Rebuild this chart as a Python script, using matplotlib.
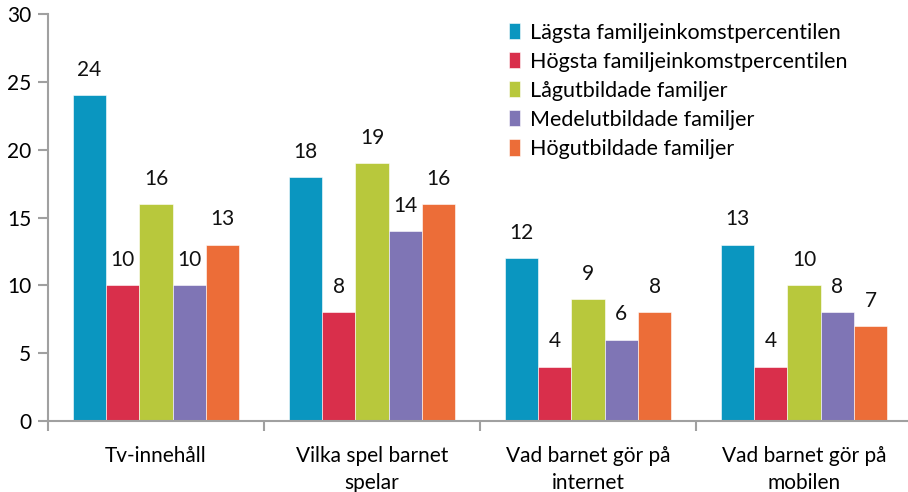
import matplotlib
matplotlib.use("Agg")
import matplotlib.pyplot as plt
import numpy as np

categories = ["Tv-innehåll", "Vilka spel barnet\nspelar", "Vad barnet gör på\ninternet", "Vad barnet gör på\nmobilen"]
series_names = ["Lägsta familjeinkomstpercentilen", "Högsta familjeinkomstpercentilen",
                "Lågutbildade familjer", "Medelutbildade familjer", "Högutbildade familjer"]
lagsta = [24, 18, 12, 13]
hogsta = [10, 8, 4, 4]
lagutb = [16, 19, 9, 10]
medelutb = [10, 14, 6, 8]
hogutb = [13, 16, 8, 7]
series = [lagsta, hogsta, lagutb, medelutb, hogutb]
colors = ["#0a96c0", "#d92f4b", "#b8c83c", "#7f75b5", "#ec6d38"]
yticks = [0, 5, 10, 15, 20, 25, 30]

plt.rcParams['font.family'] = ['Lato', 'DejaVu Sans']

fig = plt.figure(figsize=(9.08, 4.92), dpi=100)
ax = fig.add_axes([48/908, 1-421/492, 864/908, (421-14)/492])

x = np.arange(len(categories))
w = 0.154
for i, (vals, c, name) in enumerate(zip(series, colors, series_names)):
    pos = x + (i - 2) * w
    ax.bar(pos, vals, width=w, color=c, edgecolor="white", linewidth=0.4, label=name)
    for p, v in zip(pos, vals):
        ax.annotate(str(v), (p, v), xytext=(0, 11), textcoords="offset points",
                    ha="center", va="bottom", fontsize=15, color="#111111")

ax.set_xlim(-0.5, len(categories) - 0.5)
ax.set_ylim(0, 30)
ax.set_yticks(yticks)
ax.set_yticklabels([str(t) for t in yticks], fontsize=15)
ax.set_xticks(x)
ax.set_xticklabels(categories, fontsize=15, linespacing=1.45)
ax.set_xticks(np.arange(len(categories) + 1) - 0.5, minor=True)
ax.tick_params(axis="x", which="major", length=0, pad=18)
ax.tick_params(axis="x", which="minor", length=7, width=1.5, color="#a0a0a0")
ax.tick_params(axis="y", length=7, width=1.5, color="#a0a0a0", pad=5)
for s in ["top", "right"]:
    ax.spines[s].set_visible(False)
for s in ["left", "bottom"]:
    ax.spines[s].set_color("#a0a0a0")
    ax.spines[s].set_linewidth(1.5)

ax.legend(loc="upper left", bbox_to_anchor=(500/908, 1 - 14/492), bbox_transform=fig.transFigure,
          frameon=False, fontsize=15.5, handlelength=0.55, handleheight=0.8,
          handletextpad=0.45, labelspacing=0.42, borderaxespad=0)

fig.savefig("out.png", dpi=100)
